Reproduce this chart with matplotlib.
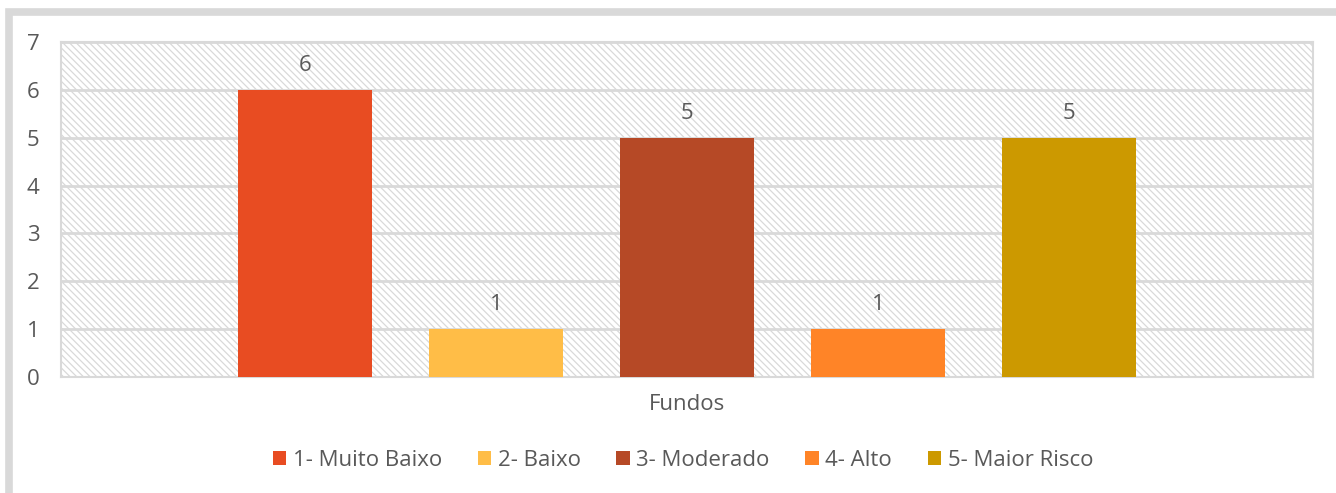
import matplotlib.pyplot as plt
from matplotlib.patches import Rectangle, Patch

plt.rcParams['font.family'] = ['Open Sans', 'DejaVu Sans']
plt.rcParams['hatch.color'] = '#d9d9d9'
plt.rcParams['hatch.linewidth'] = 0.9

category = "Fundos"
series = ["1- Muito Baixo", "2- Baixo", "3- Moderado", "4- Alto", "5- Maior Risco"]
values = [6, 1, 5, 1, 5]
colors = ["#E84C22", "#FFBD47", "#B64926", "#FF8427", "#CC9900"]
yticks = [0, 1, 2, 3, 4, 5, 6, 7]

text_color = "#595959"
grid_color = "#d9d9d9"

fig = plt.figure(figsize=(13.36, 4.93), dpi=100)
ax = fig.add_axes([61 / 1336, 116 / 493, 1252 / 1336, 335 / 493])

# hatched plot area background
ax.add_patch(Rectangle((0, 0), 1, 1, transform=ax.transAxes, facecolor="white",
                       hatch="\\\\\\\\\\", edgecolor=grid_color, linewidth=0, zorder=0))

step = 0.1526
width = 0.107
for i, (name, v, c) in enumerate(zip(series, values, colors)):
    x = (i - 2) * step
    ax.bar(x, v, width=width, color=c, zorder=3, label=name)
    ax.annotate(str(v), (x, v), xytext=(0, 10), textcoords="offset points",
                ha="center", va="bottom", fontsize=16, color=text_color)

ax.set_xlim(-0.5, 0.5)
ax.set_ylim(0, 7)
ax.set_yticks(yticks)
ax.set_xticks([0])
ax.set_xticklabels([category])
ax.tick_params(axis="both", length=0, labelsize=16, labelcolor=text_color)
ax.tick_params(axis="x", pad=12)
ax.tick_params(axis="y", pad=20)
for lbl in ax.get_yticklabels():
    lbl.set_horizontalalignment("center")
ax.yaxis.grid(True, color=grid_color, linewidth=2, zorder=1)
ax.set_axisbelow(True)
for sp in ax.spines.values():
    sp.set_color(grid_color)
    sp.set_linewidth(1.5)

handles = [Patch(facecolor=c, label=n) for n, c in zip(series, colors)]
fig.legend(handles=handles, loc="center", bbox_to_anchor=(683 / 1336, 1 - 460 / 493),
           ncol=5, frameon=False, fontsize=16, labelcolor=text_color,
           handlelength=0.6, handleheight=0.6, handletextpad=0.3, columnspacing=1.6)

# outer chart frame (cut off at right and bottom)
fig.patches.append(Rectangle((8.5 / 1336, -0.1), 1.2, 1 - 11.5 / 493 + 0.1,
                             transform=fig.transFigure, fill=False,
                             edgecolor=grid_color, linewidth=5.5, zorder=0))

fig.savefig("out.png", dpi=100)
